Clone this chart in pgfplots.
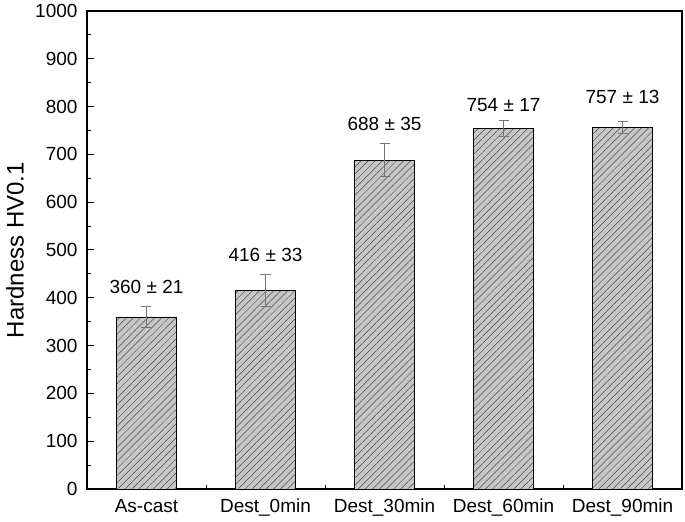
\documentclass[border=0pt]{standalone}
\usepackage{fontspec}
\setmainfont{Liberation Sans}
\usepackage{pgfplots}
\usepackage{pgfplotstable}
\pgfplotsset{compat=1.18}
\usetikzlibrary{patterns.meta}

% x  hardness  err  label-y
\pgfplotstableread{
x y err ly
0 360 21 423
1 416 33 490
2 688 35 764
3 754 17 803
4 757 13 820
}\hardness

\begin{document}
\begin{tikzpicture}
\begin{axis}[
  name=ax,
  scale only axis,
  width=595bp, height=478bp,
  xmin=-0.5, xmax=4.5,
  ymin=0, ymax=1000,
  xtick={0,1,2,3,4},
  xticklabels={As-cast,Dest\_0min,Dest\_30min,Dest\_60min,Dest\_90min},
  minor xtick={0.5,1.5,2.5,3.5},
  ytick={0,100,...,1000},
  minor ytick={50,150,...,950},
  tick pos=left,
  tick align=inside,
  major tick length=7bp,
  minor tick length=4bp,
  every tick/.style={black, line width=1pt},
  axis line style={line width=1.2pt},
  /pgf/number format/assume math mode=true,
  /pgf/number format/1000 sep={},
  ticklabel style={font=\fontsize{19bp}{22bp}\selectfont},
  yticklabel style={xshift=-6bp},
  xticklabel style={anchor=base, yshift=-23bp, text height=14bp, text depth=4bp},
  ylabel={Hardness HV0.1},
  ylabel style={font=\fontsize{24bp}{28bp}\selectfont,
    at={(axis description cs:-0.121,0.5)}, anchor=center},
  clip=false,
]
\addplot[
  ybar, bar width=0.5, draw=black, line width=0.7pt,
  fill=gray!45,
  postaction={pattern={Lines[angle=45,distance=5bp,line width=0.5bp]}, pattern color=black!70},
  error bars/.cd, y dir=both, y explicit,
  error bar style={black!55, line width=0.8pt},
  error mark options={rotate=90, mark size=5bp, black!55, line width=0.8pt},
] table[x=x, y=y, y error=err] {\hardness};
\addplot[
  only marks, mark=none,
  nodes near coords={\pgfmathprintnumber{\pgfplotspointmeta} ± \pgfmathprintnumber{\errval}},
  point meta=\thisrow{y},
  visualization depends on={\thisrow{err} \as \errval},
  every node near coord/.append style={anchor=center, font=\fontsize{19bp}{22bp}\selectfont, /pgf/number format/assume math mode=true},
] table[x=x, y=ly] {\hardness};
\end{axis}
\pgfresetboundingbox
\path ([shift={(-87bp,-33bp)}]ax.south west) rectangle ([shift={(3bp,11bp)}]ax.north east);
\end{tikzpicture}
\end{document}
